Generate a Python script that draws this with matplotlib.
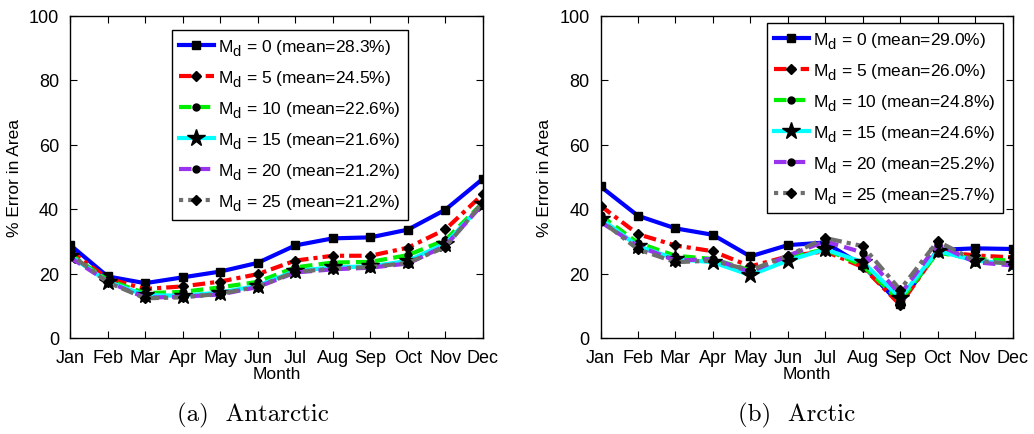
import matplotlib
matplotlib.use("Agg")
import matplotlib.pyplot as plt

try:
    import matplotlib._mathtext as _mt
    _mt.SHRINK_FACTOR = 0.85
    _mt.FontConstantsBase.sub1 = 0.55
    _mt.FontConstantsBase.sub2 = 0.7
except Exception:
    pass

plt.rcParams['font.family'] = ['Liberation Sans', 'DejaVu Sans']
plt.rcParams['mathtext.fontset'] = 'custom'
plt.rcParams['mathtext.rm'] = 'Liberation Sans'
plt.rcParams['mathtext.it'] = 'Liberation Sans'
plt.rcParams['mathtext.default'] = 'regular'

months = ["Jan", "Feb", "Mar", "Apr", "May", "Jun", "Jul", "Aug", "Sep", "Oct", "Nov", "Dec"]
md_values = [0, 5, 10, 15, 20, 25]

antarctic_means = [28.3, 24.5, 22.6, 21.6, 21.2, 21.2]
antarctic_md0 = [28.9, 19.1, 17.0, 18.8, 20.6, 23.3, 28.7, 30.9, 31.2, 33.6, 39.8, 49.4]
antarctic_md5 = [27.0, 18.5, 15.2, 16.0, 17.5, 19.8, 24.0, 25.5, 25.5, 28.0, 33.7, 44.6]
antarctic_md10 = [26.0, 18.0, 13.9, 14.3, 15.7, 17.4, 21.9, 23.4, 23.6, 25.7, 30.4, 42.0]
antarctic_md15 = [25.5, 17.5, 13.3, 13.1, 14.1, 16.2, 20.8, 21.9, 22.2, 23.9, 29.3, 41.6]
antarctic_md20 = [25.0, 17.5, 12.5, 12.8, 13.5, 15.8, 20.3, 21.3, 21.8, 23.1, 28.6, 41.6]
antarctic_md25 = [26.0, 17.3, 12.3, 12.6, 13.7, 15.9, 20.5, 21.5, 22.0, 23.3, 28.2, 42.2]

arctic_means = [29.0, 26.0, 24.8, 24.6, 25.2, 25.7]
arctic_md0 = [47.0, 37.9, 34.0, 32.0, 25.3, 28.8, 29.6, 22.5, 10.5, 27.3, 27.8, 27.6]
arctic_md5 = [41.0, 32.2, 28.7, 26.9, 22.2, 25.3, 26.9, 22.0, 10.3, 26.9, 25.6, 25.0]
arctic_md10 = [38.0, 29.5, 25.5, 24.5, 21.0, 25.0, 27.5, 22.5, 11.5, 26.5, 24.5, 24.0]
arctic_md15 = [37.0, 28.5, 24.5, 23.5, 19.5, 24.0, 27.5, 23.5, 12.5, 27.0, 24.0, 23.0]
arctic_md20 = [36.0, 28.5, 24.0, 24.5, 20.5, 25.5, 30.0, 26.5, 13.5, 29.0, 23.5, 22.5]
arctic_md25 = [36.5, 27.5, 23.5, 24.0, 21.0, 25.5, 31.0, 28.5, 15.0, 30.0, 24.0, 23.0]

antarctic = [antarctic_md0, antarctic_md5, antarctic_md10, antarctic_md15, antarctic_md20, antarctic_md25]
arctic = [arctic_md0, arctic_md5, arctic_md10, arctic_md15, arctic_md20, arctic_md25]

colors = ['#0000ff', '#ff0000', '#00ee00', '#00ffff', '#9933ee', '#6e6e6e']
linestyles = ['-', (0, (3, 1.2, 1, 1.2)), (0, (3, 1.5)), '-', (0, (3, 1.5)), (0, (1, 1.2, 3, 1.2))]
markers = ['s', 'D', 'o', '*', 'o', 'D']
msizes = [6, 5, 5, 13, 5, 5]

fig = plt.figure(figsize=(10.34, 4.35), dpi=100)
ax1 = fig.add_axes([70 / 1034, 1 - 339 / 435, (483 - 70) / 1034, (339 - 16.5) / 435])
ax2 = fig.add_axes([600.5 / 1034, 1 - 339 / 435, (1012.5 - 600.5) / 1034, (339 - 16.5) / 435])

x = list(range(1, 13))
for ax, data, means, legloc in [(ax1, antarctic, antarctic_means, (0.247, 0.366)),
                                (ax2, arctic, arctic_means, (0.404, 0.388))]:
    for i in range(len(md_values)):
        ax.plot(x, data[i], color=colors[i], linestyle=linestyles[i], lw=3,
                marker=markers[i], markersize=msizes[i], markerfacecolor='black',
                markeredgecolor='black',
                label=r'M$_{d}$ = %d (mean=%.1f%%)' % (md_values[i], means[i]))
    ax.set_xlim(1, 12)
    ax.set_ylim(0, 100)
    ax.set_xticks(x)
    ax.set_xticklabels(months)
    ax.set_yticks([0, 20, 40, 60, 80, 100])
    ax.tick_params(direction='in', top=True, right=True, length=5, labelsize=13, pad=8)
    ax.set_xlabel('Month', fontsize=12.5, labelpad=0)
    ax.set_ylabel('% Error in Area', fontsize=12.5, labelpad=5)
    for s in ax.spines.values():
        s.set_linewidth(1.0)
    leg = ax.legend(loc='lower left', bbox_to_anchor=legloc, borderaxespad=0, fontsize=12.5,
                    handlelength=2.0, handletextpad=0.25, labelspacing=0.58, borderpad=0.4,
                    fancybox=False, edgecolor='black', framealpha=1)
    leg.get_frame().set_linewidth(1.0)

fig.text(253 / 1034, 1 - 415 / 435, '(a)  Antarctic', family='cmr10', fontsize=18, ha='center', va='center')
fig.text(797 / 1034, 1 - 415 / 435, '(b)  Arctic', family='cmr10', fontsize=18, ha='center', va='center')

fig.savefig('out.png', dpi=100)
